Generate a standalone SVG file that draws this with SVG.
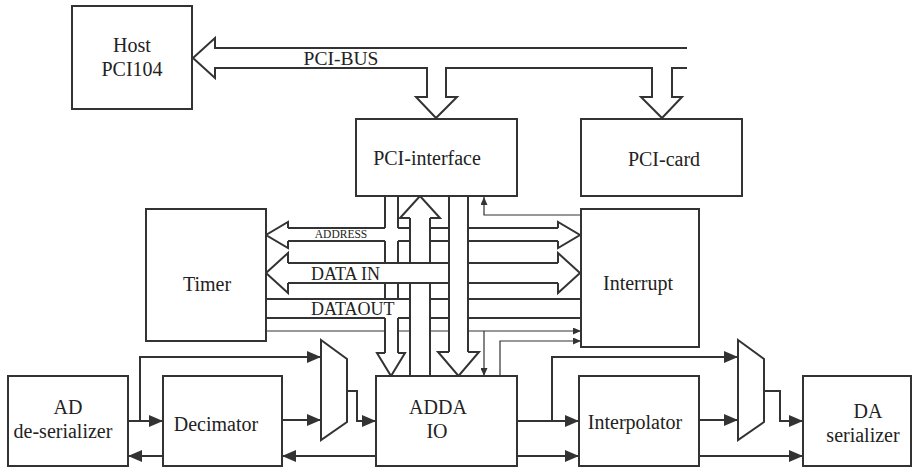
<svg xmlns="http://www.w3.org/2000/svg" width="914" height="468" viewBox="0 0 914 468">
<style>
.box{fill:#fff;stroke:#333;stroke-width:2}
.bus{fill:none;stroke:#333;stroke-width:2;stroke-linejoin:miter}
.sig{fill:none;stroke:#333;stroke-width:2}
.thin{fill:none;stroke:#333;stroke-width:1.2}
text{font-family:"Liberation Serif","Times New Roman",serif;fill:#222;text-anchor:middle}
.lbl{font-size:20px}
</style>
<defs>
<marker id="ah" viewBox="0 0 14 12" refX="14" refY="6" markerWidth="14" markerHeight="12" orient="auto" markerUnits="userSpaceOnUse"><path d="M0,0 L14,6 L0,12 z" fill="#333"/></marker>
<marker id="as" viewBox="0 0 8 7" refX="8" refY="3.5" markerWidth="8" markerHeight="7" orient="auto" markerUnits="userSpaceOnUse"><path d="M0,0 L8,3.5 L0,7 z" fill="#333"/></marker>
</defs>

<g id="connectors">
<!-- PCI bus -->
<polyline class="bus" points="687,48 215,48 215,38 193,58 215,78 215,68 427,68 427,97 416,97 436,118 457,97 446,97 446,68 652,68 652,97 641,97 662,118 682,97 672,97 672,68 687,68"/>
<!-- ADDRESS bus -->
<polyline class="bus" points="288,228 288,222 266,235 288,248 288,241"/>
<polyline class="bus" points="558,228 558,222 580,235 558,248 558,241"/>
<path class="bus" d="M288,228H385M398,228H411M430,228H449M468,228H558M288,241H385M398,241H411M430,241H449M468,241H558"/>
<!-- DATA IN bus -->
<polyline class="bus" points="288,263 288,253 266,273 288,293 288,283"/>
<polyline class="bus" points="558,263 558,253 580,273 558,293 558,283"/>
<path class="bus" d="M288,263H449M468,263H558M288,283H449M468,283H558"/>
<!-- DATAOUT bus -->
<path class="bus" d="M266,299H411M430,299H449M468,299H581M266,318H385M398,318H411M430,318H449M468,318H581"/>
<path class="thin" d="M266,331H385M398,331H411M430,331H449"/>
<path class="thin" d="M468,331H581" marker-end="url(#as)"/>
<path class="thin" d="M484,331V376" marker-end="url(#as)"/>
<!-- vertical bus A -->
<path class="bus" d="M385,196V228M398,196V228M385,241V263M398,241V263M385,283V299M398,283V299M385,318V353M398,318V353"/>
<polyline class="bus" points="385,353 377,353 391,376 405,353 398,353"/>
<!-- vertical bus B (up) -->
<polyline class="bus" points="410,218 400,218 420,196 440,218 430,218"/>
<path class="bus" d="M410,218V263M430,218V263M410,283V376M430,283V376"/>
<!-- vertical bus C -->
<path class="bus" d="M449,196V352M468,196V352"/>
<polyline class="bus" points="449,352 438,352 458.5,376 479,352 468,352"/>
<!-- interrupt to PCI-interface -->
<polyline class="thin" points="581,215 484,215 484,197" marker-end="url(#as)"/>
<!-- ADDA to Interrupt -->
<polyline class="thin" points="500,376 500,341 581,341" marker-end="url(#as)"/>
<!-- AD side signals -->
<path class="sig" d="M128,421H163" marker-end="url(#ah)"/>
<polyline class="sig" points="140,421 140,357 321,357" marker-end="url(#ah)"/>
<path class="sig" d="M282,420H321" marker-end="url(#ah)"/>
<polyline class="sig" points="347,391 357,391 357,421 376,421" marker-end="url(#ah)"/>
<path class="sig" d="M376,456H282" marker-end="url(#ah)"/>
<path class="sig" d="M163,456H128" marker-end="url(#ah)"/>
<!-- DA side signals -->
<path class="sig" d="M517,421H579" marker-end="url(#ah)"/>
<polyline class="sig" points="552,421 552,357 738,357" marker-end="url(#ah)"/>
<path class="sig" d="M517,456H579" marker-end="url(#ah)"/>
<path class="sig" d="M699,420H738" marker-end="url(#ah)"/>
<polyline class="sig" points="764,391 780,391 780,421 803,421" marker-end="url(#ah)"/>
<path class="sig" d="M699,456H803" marker-end="url(#ah)"/>
<text x="341" y="65" style="font-size:19.5px">PCI-BUS</text>
<text x="341" y="238" style="font-size:11.5px">ADDRESS</text>
<text x="311" y="280" style="font-size:18px;text-anchor:start">DATA IN</text>
<text x="311" y="315" style="font-size:18px;text-anchor:start">DATAOUT</text>
</g>

<g id="host"><rect class="box" x="72" y="6" width="120" height="103"/><text class="lbl" x="132" y="52">Host</text><text class="lbl" x="132" y="76">PCI104</text></g>
<g id="pci-interface"><rect class="box" x="356" y="119" width="161" height="77"/><text class="lbl" x="427" y="165">PCI-interface</text></g>
<g id="pci-card"><rect class="box" x="581" y="119" width="161" height="77"/><text class="lbl" x="664" y="166">PCI-card</text></g>
<g id="timer"><rect class="box" x="146" y="209" width="120" height="132"/><text class="lbl" x="207" y="291">Timer</text></g>
<g id="interrupt"><rect class="box" x="581" y="209" width="118" height="138"/><text class="lbl" x="638" y="290">Interrupt</text></g>
<g id="ad-deserializer"><rect class="box" x="8" y="376" width="120" height="90"/><text class="lbl" x="68" y="414">AD</text><text class="lbl" x="63" y="438">de-serializer</text></g>
<g id="decimator"><rect class="box" x="163" y="376" width="119" height="90"/><text class="lbl" x="216" y="431">Decimator</text></g>
<g id="mux1"><polygon class="box" points="321,340 347,359 347,422 321,440"/></g>
<g id="adda-io"><rect class="box" x="376" y="376" width="141" height="90"/><text class="lbl" x="438" y="414">ADDA</text><text class="lbl" x="437" y="438">IO</text></g>
<g id="interpolator"><rect class="box" x="579" y="376" width="120" height="90"/><text class="lbl" x="635" y="429">Interpolator</text></g>
<g id="mux2"><polygon class="box" points="738,340 764,359 764,422 738,440"/></g>
<g id="da-serializer"><rect class="box" x="803" y="376" width="108" height="90"/><text class="lbl" x="868" y="418">DA</text><text class="lbl" x="863" y="442">serializer</text></g>
</svg>
